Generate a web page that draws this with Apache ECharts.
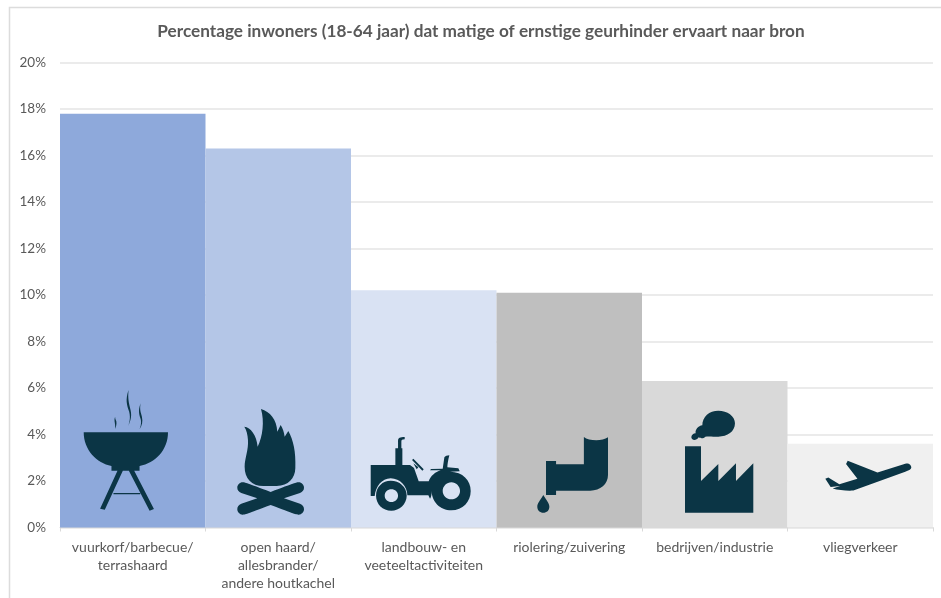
<!DOCTYPE html>
<html>
<head>
<meta charset="utf-8">
<style>
html,body{margin:0;padding:0;background:#fff;}
#main{width:941px;height:598px;}
</style>
<script src="https://cdn.jsdelivr.net/npm/echarts@6/dist/echarts.min.js"></script>
</head>
<body>
<div id="main"></div>
<script>
var titleText = 'Percentage inwoners (18-64 jaar) dat matige of ernstige geurhinder ervaart naar bron';
var categories = ['vuurkorf/barbecue/\nterrashaard', 'open haard/\nallesbrander/\nandere houtkachel', 'landbouw- en\nveeteeltactiviteiten', 'riolering/zuivering', 'bedrijven/industrie', 'vliegverkeer'];
var values = [17.8, 16.3, 10.2, 10.1, 6.3, 3.6];
var barColors = ['#8EA9DB', '#B4C6E7', '#D9E2F3', '#BFBFBF', '#D9D9D9', '#F0F0F0'];

var iconColor = '#0B3545';
// iconen: paden in zoom-coordinaten (3x), box = [x,y,w,h] op de pagina
var icons = [
	{ // barbecue
		box: [83.7, 390, 84.3, 120.7],
		d: 'M71,157 L323,157 C323,210 285,250 238,258 L238,272 L222,272 L281,387 L268,392 L206,272 L188,272 L134,389 L120,386 L172,272 L154,272 L154,258 C110,250 71,210 71,157 Z ' +
			'M160,339 L240,339 L240,343 L160,343 Z ' +
			'M205,30 C195,60 200,75 207,95 C212,115 207,130 203,140 C210,125 216,110 211,90 C205,65 203,55 205,30 Z ' +
			'M241,70 C232,95 238,105 242,120 C244,132 240,142 238,148 C246,135 248,125 245,110 C241,95 238,90 241,70 Z ' +
			'M165,110 C160,122 167,130 165,147 C170,135 170,125 167,120 C165,115 165,112 165,110 Z'
	},
	{ // vuur
		box: [237.3, 409, 66.7, 105.7],
		d: 'M603,87 C630,95 650,118 652,155 L662,135 C668,145 672,155 674,170 L685,153 C700,180 708,215 706,265 C705,295 685,318 650,318 L610,318 C575,318 554,295 554,260 C554,235 566,210 564,180 C563,165 560,150 553,140 C572,142 590,165 593,200 C608,170 614,125 603,87 Z ' +
			'M548,307 C555,307 560,309 632,336 C704,309 709,307 716,307 C725,307 732,315 732,323 C732,330 728,335 720,339 L672,355 L720,371 C728,375 732,380 732,388 C732,396 725,404 716,404 C709,404 704,402 632,375 C560,402 555,404 548,404 C539,404 532,396 532,388 C532,380 536,375 544,371 L592,355 L544,339 C536,335 532,330 532,323 C532,315 539,307 548,307 Z'
	},
	{ // tractor
		box: [370.7, 437, 100, 73.7],
		d: 'M136,205 L144,205 L144,182 C144,174 150,171 164,171 L164,178 C156,178 154,180 154,185 L154,205 L157,205 L157,255 L180,255 L192,264 L206,304 L236,304 C242,288 255,276 272,271 L240,271 L243,267 L278,266 L283,232 C285,228 292,226 298,226 C294,240 292,255 292,262 L325,265 L329,274 L300,275 C338,276 362,300 362,333 C362,365 338,391 304,391 C270,391 245,365 245,333 C245,345 243,352 240,356 L235,346 L172,346 C172,320 150,295 122,295 C95,295 77,320 74,348 L62,348 L62,255 L136,255 Z ' +
			'M186,240 L190,236 L221,268 L217,272 Z ' +
			'M200,268 L190,250 L205,262 Z ' +
			'M122,302 C148,302 170,320 170,347 C170,372 148,392 124,392 C98,392 78,372 78,347 C78,320 98,302 122,302 Z ' +
			'M304,307 C290,307 278,319 278,333 C278,347 290,358 304,358 C318,358 330,347 330,333 C330,319 318,307 304,307 Z ' +
			'M124,328 C113,328 104,336 104,347 C104,358 113,366 124,366 C135,366 144,358 144,347 C144,336 135,328 124,328 Z'
	},
	{ // riool
		box: [537.3, 437, 70.7, 75.7],
		d: 'M701,171 C715,183 755,185 773,172 L773,285 C773,312 750,332 720,332 L618,332 L618,345 L588,345 L588,243 L618,243 L618,253 L701,253 Z ' +
			'M580,345 C590,362 598,370 598,380 C598,391 590,398 580,398 C570,398 562,391 562,380 C562,370 570,362 580,345 Z'
	},
	{ // fabriek
		box: [685, 410.7, 68.3, 102],
		d: 'M135,199 L183,199 L183,303 L235,252 L235,303 L288,250 L288,303 L340,250 L340,398 L135,398 Z ' +
			'M235,92 C262,92 285,108 285,130 C285,155 262,170 235,170 C220,170 205,168 196,170 C190,177 180,175 176,172 C170,182 156,184 154,172 C154,165 160,160 167,160 C165,148 175,138 187,136 C187,110 208,92 235,92 Z'
	},
	{ // vliegtuig
		box: [825.3, 460.7, 86, 30],
		d: 'M623,242 L712,277 L795,251 C805,248 814,255 813,263 C812,268 805,271 795,275 L640,331 C620,332 595,330 578,325 L600,317 L572,320 L556,296 L565,292 L598,312 L652,296 L618,252 Z'
	}
];

var chart = echarts.init(document.getElementById('main'));
var option = {
	backgroundColor: '#fff',
	animation: false,
	textStyle: {fontFamily: 'Lato'},
	title: {
		text: titleText,
		left: 476,
		top: 18,
		textAlign: 'center',
		textStyle: {fontFamily: 'Lato', fontSize: 17.2, fontWeight: 'bold', color: '#595959'}
	},
	grid: {left: 60, right: 8, top: 62.5, bottom: 70.5},
	xAxis: {
		type: 'category',
		data: categories,
		axisLine: {lineStyle: {color: '#D9D9D9', width: 1}},
		axisTick: {show: true, length: 4, lineStyle: {color: '#D9D9D9'}},
		axisLabel: {interval: 0, color: '#595959', fontSize: 14, lineHeight: 18, margin: 11, fontFamily: 'Lato'}
	},
	yAxis: {
		type: 'value',
		min: 0,
		max: 20,
		interval: 2,
		axisLine: {show: false},
		axisTick: {show: false},
		axisLabel: {color: '#595959', fontSize: 13.5, margin: 14, fontFamily: 'Lato', formatter: '{value}%'},
		splitLine: {lineStyle: {color: '#E4E4E4', width: 1.5}}
	},
	series: [{
		type: 'bar',
		barWidth: '100%',
		data: values.map(function (v, i) {
			return {value: v, itemStyle: {color: barColors[i]}};
		})
	}, {
		// iconen in de balken
		type: 'custom',
		silent: true,
		clip: false,
		z: 10,
		data: icons.map(function (ic, i) { return i; }),
		renderItem: function (params) {
			var ic = icons[params.dataIndex];
			return {
				type: 'path',
				shape: {pathData: ic.d, layout: 'cover', x: ic.box[0], y: ic.box[1], width: ic.box[2], height: ic.box[3]},
				style: {fill: iconColor}
			};
		}
	}],
	graphic: [{
		type: 'polyline',
		shape: {points: [[9.5, 598], [9.5, 7.5], [941, 7.5]]},
		style: {fill: 'none', stroke: '#DCDCDC', lineWidth: 1.5},
		z: 0
	}]
};
chart.setOption(option);
</script>
</body>
</html>
